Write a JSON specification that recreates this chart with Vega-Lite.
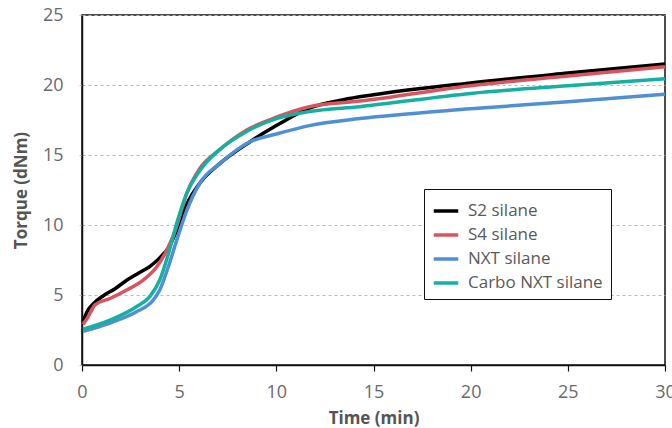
{
  "$schema": "https://vega.github.io/schema/vega-lite/v6.json",
  "width": 583,
  "height": 350,
  "autosize": {"type": "none"},
  "padding": {"left": 82, "top": 15, "right": 7, "bottom": 63},
  "background": "white",
  "config": {
    "font": "Open Sans",
    "view": {"stroke": "#111", "strokeWidth": 1.5}
  },
  "data": {
    "values": [
      {"t": 0.05, "v": 3.1, "s": "S2 silane"},
      {"t": 0.3, "v": 3.9, "s": "S2 silane"},
      {"t": 0.6, "v": 4.4, "s": "S2 silane"},
      {"t": 1.1, "v": 4.95, "s": "S2 silane"},
      {"t": 1.7, "v": 5.45, "s": "S2 silane"},
      {"t": 2.3, "v": 6.05, "s": "S2 silane"},
      {"t": 2.9, "v": 6.55, "s": "S2 silane"},
      {"t": 3.5, "v": 7.05, "s": "S2 silane"},
      {"t": 4.0, "v": 7.65, "s": "S2 silane"},
      {"t": 4.5, "v": 8.5, "s": "S2 silane"},
      {"t": 4.87, "v": 9.6, "s": "S2 silane"},
      {"t": 5.4, "v": 11.5, "s": "S2 silane"},
      {"t": 6.07, "v": 13.0, "s": "S2 silane"},
      {"t": 7.1, "v": 14.4, "s": "S2 silane"},
      {"t": 8.65, "v": 15.95, "s": "S2 silane"},
      {"t": 10.0, "v": 17.1, "s": "S2 silane"},
      {"t": 11.7, "v": 18.35, "s": "S2 silane"},
      {"t": 13.45, "v": 18.95, "s": "S2 silane"},
      {"t": 15, "v": 19.3, "s": "S2 silane"},
      {"t": 20, "v": 20.15, "s": "S2 silane"},
      {"t": 25, "v": 20.85, "s": "S2 silane"},
      {"t": 30, "v": 21.5, "s": "S2 silane"},

      {"t": 0.05, "v": 2.9, "s": "S4 silane"},
      {"t": 0.3, "v": 3.4, "s": "S4 silane"},
      {"t": 0.67, "v": 4.3, "s": "S4 silane"},
      {"t": 1.44, "v": 4.75, "s": "S4 silane"},
      {"t": 2.3, "v": 5.36, "s": "S4 silane"},
      {"t": 3.15, "v": 6.07, "s": "S4 silane"},
      {"t": 3.84, "v": 7.0, "s": "S4 silane"},
      {"t": 4.36, "v": 8.2, "s": "S4 silane"},
      {"t": 4.8, "v": 9.6, "s": "S4 silane"},
      {"t": 5.4, "v": 12.3, "s": "S4 silane"},
      {"t": 6.07, "v": 14.05, "s": "S4 silane"},
      {"t": 7.1, "v": 15.4, "s": "S4 silane"},
      {"t": 8.5, "v": 16.8, "s": "S4 silane"},
      {"t": 10.0, "v": 17.7, "s": "S4 silane"},
      {"t": 11.7, "v": 18.45, "s": "S4 silane"},
      {"t": 14.3, "v": 18.85, "s": "S4 silane"},
      {"t": 20, "v": 19.95, "s": "S4 silane"},
      {"t": 25, "v": 20.65, "s": "S4 silane"},
      {"t": 30, "v": 21.3, "s": "S4 silane"},

      {"t": 0.05, "v": 2.4, "s": "NXT silane"},
      {"t": 1.44, "v": 3.0, "s": "NXT silane"},
      {"t": 2.8, "v": 3.8, "s": "NXT silane"},
      {"t": 3.67, "v": 4.64, "s": "NXT silane"},
      {"t": 4.0, "v": 5.36, "s": "NXT silane"},
      {"t": 4.5, "v": 7.26, "s": "NXT silane"},
      {"t": 4.87, "v": 8.9, "s": "NXT silane"},
      {"t": 5.4, "v": 11.07, "s": "NXT silane"},
      {"t": 6.07, "v": 13.0, "s": "NXT silane"},
      {"t": 7.1, "v": 14.4, "s": "NXT silane"},
      {"t": 8.65, "v": 15.95, "s": "NXT silane"},
      {"t": 10.0, "v": 16.5, "s": "NXT silane"},
      {"t": 11.7, "v": 17.1, "s": "NXT silane"},
      {"t": 14.3, "v": 17.6, "s": "NXT silane"},
      {"t": 20, "v": 18.3, "s": "NXT silane"},
      {"t": 25, "v": 18.8, "s": "NXT silane"},
      {"t": 30, "v": 19.35, "s": "NXT silane"},

      {"t": 0.05, "v": 2.55, "s": "Carbo NXT silane"},
      {"t": 1.44, "v": 3.2, "s": "Carbo NXT silane"},
      {"t": 2.8, "v": 4.16, "s": "Carbo NXT silane"},
      {"t": 3.5, "v": 4.9, "s": "Carbo NXT silane"},
      {"t": 4.0, "v": 6.07, "s": "Carbo NXT silane"},
      {"t": 4.5, "v": 8.2, "s": "Carbo NXT silane"},
      {"t": 4.87, "v": 10.1, "s": "Carbo NXT silane"},
      {"t": 5.4, "v": 12.3, "s": "Carbo NXT silane"},
      {"t": 6.07, "v": 13.9, "s": "Carbo NXT silane"},
      {"t": 7.1, "v": 15.4, "s": "Carbo NXT silane"},
      {"t": 8.5, "v": 16.7, "s": "Carbo NXT silane"},
      {"t": 10.0, "v": 17.6, "s": "Carbo NXT silane"},
      {"t": 11.7, "v": 18.1, "s": "Carbo NXT silane"},
      {"t": 14.3, "v": 18.45, "s": "Carbo NXT silane"},
      {"t": 20, "v": 19.4, "s": "Carbo NXT silane"},
      {"t": 25, "v": 19.95, "s": "Carbo NXT silane"},
      {"t": 30, "v": 20.45, "s": "Carbo NXT silane"}
    ]
  },
  "mark": {"type": "line", "interpolate": "monotone", "strokeWidth": 3.5},
  "encoding": {
    "x": {
      "field": "t", "type": "quantitative",
      "scale": {"domain": [0, 30], "nice": false},
      "axis": {
        "title": "Time (min)", "values": [0, 5, 10, 15, 20, 25, 30],
        "grid": false, "domainColor": "#111", "domainWidth": 1.5,
        "tickColor": "#111", "tickSize": 6, "tickWidth": 1.2,
        "labelFontSize": 18, "labelColor": "#6a6a6a", "labelPadding": 12,
        "labelFlush": false,
        "titleFontSize": 17, "titleFontWeight": "bold", "titleColor": "#555", "titlePadding": 9
      }
    },
    "y": {
      "field": "v", "type": "quantitative",
      "scale": {"domain": [0, 25], "nice": false},
      "axis": {
        "title": "Torque (dNm)", "values": [0, 5, 10, 15, 20, 25],
        "grid": true, "gridColor": "#bbb", "gridDash": [3, 3], "gridWidth": 1,
        "domainColor": "#111", "domainWidth": 1.5,
        "tickColor": "#bbb", "tickDash": [3, 3], "tickSize": 5,
        "labelFontSize": 18, "labelColor": "#6a6a6a", "labelPadding": 14,
        "titleFontSize": 17, "titleFontWeight": "bold", "titleColor": "#555", "titlePadding": 12
      }
    },
    "color": {
      "field": "s", "type": "nominal",
      "scale": {
        "domain": ["S2 silane", "S4 silane", "NXT silane", "Carbo NXT silane"],
        "range": ["#000000", "#d9545f", "#4f8fd6", "#14b0a0"]
      },
      "legend": {
        "title": null, "orient": "none", "legendX": 342, "legendY": 174,
        "symbolType": "stroke", "symbolStrokeWidth": 3.5, "symbolSize": 600,
        "labelFontSize": 17, "labelColor": "#5a5a5a", "labelOffset": 8, "rowPadding": 2,
        "strokeColor": "#111", "padding": 8, "fillColor": "white",
        "labelLimit": 220
      }
    }
  }
}
